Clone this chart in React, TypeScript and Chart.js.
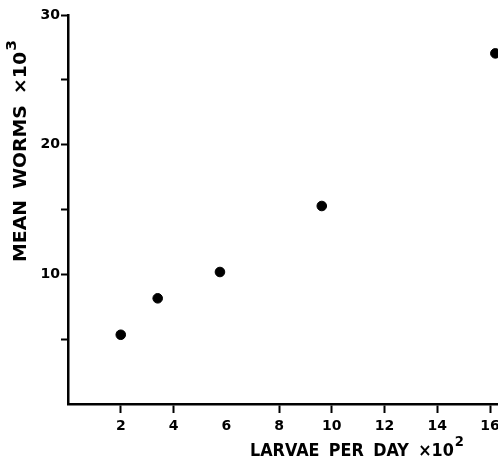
import React, { useEffect, useRef } from "react";
import { Chart, registerables } from "chart.js";

Chart.register(...registerables);

const larvaePerDay = [2.0, 3.4, 5.76, 9.62, 16.2];
const meanWorms = [5.34, 8.15, 10.18, 15.27, 27.04];
const xTicks = [2, 4, 6, 8, 10, 12, 14, 16];
const yLabelTicks = [10, 20, 30];
const xTitle = "LARVAE PER DAY ×10";
const xTitleExp = "2";
const yTitle = "MEAN WORMS ×10";
const yTitleExp = "3";

const FONT = "'DejaVu Sans', sans-serif";

function drawTitle(ctx: any, main: string, exp: string, cx: number, by: number, size: number, targetWidth: number) {
  ctx.font = `bold ${size}px ${FONT}`;
  ctx.wordSpacing = "4px";
  const wMain = ctx.measureText(main).width;
  ctx.font = `bold ${Math.round(size * 0.85)}px ${FONT}`;
  const wExp = ctx.measureText(exp).width;
  const total = wMain + wExp + 1;
  const scale = targetWidth / total;
  ctx.save();
  ctx.translate(cx, by);
  ctx.scale(scale, 1);
  ctx.textAlign = "left";
  ctx.font = `bold ${size}px ${FONT}`;
  ctx.fillText(main, -total / 2, 0);
  ctx.font = `bold ${Math.round(size * 0.85)}px ${FONT}`;
  ctx.fillText(exp, -total / 2 + wMain + 1, -size * 0.6);
  ctx.restore();
}

const titlePlugin = {
  id: "axisTitles",
  afterDraw(chart: any) {
    const ctx = chart.ctx as any;
    ctx.save();
    ctx.fillStyle = "#000";
    ctx.textBaseline = "alphabetic";
    drawTitle(ctx, xTitle, xTitleExp, 357, 456, 17, 214);
    ctx.translate(26, 151);
    ctx.rotate(-Math.PI / 2);
    drawTitle(ctx, yTitle, yTitleExp, 0, 0, 17, 222);
    ctx.restore();
  },
};

export default function App() {
  const ref = useRef<HTMLCanvasElement | null>(null);
  useEffect(() => {
    document.body.style.margin = "0";
    document.body.style.overflow = "hidden";
    if (!ref.current) return;
    const chart = new Chart(ref.current, {
      type: "scatter",
      data: {
        datasets: [
          {
            data: larvaePerDay.map((x, i) => ({ x, y: meanWorms[i] })),
            backgroundColor: "#000",
            borderColor: "#000",
            pointRadius: 4.8,
            pointHoverRadius: 4.8,
          },
        ],
      },
      options: {
        animation: false,
        responsive: false,
        events: [],
        layout: { padding: { top: 15, left: 0, right: 32, bottom: 0 } },
        plugins: { legend: { display: false }, tooltip: { enabled: false } },
        scales: {
          x: {
            type: "linear",
            min: 0,
            max: 16.3,
            afterBuildTicks: (scale: any) => {
              scale.ticks = xTicks.map((v) => ({ value: v }));
            },
            afterFit: (scale: any) => {
              scale.height = 57;
            },
            ticks: {
              includeBounds: false,
              color: "#000",
              padding: 5,
              font: { family: FONT, size: 14, weight: "bold" },
              maxRotation: 0,
              autoSkip: false,
            },
            grid: {
              drawOnChartArea: false,
              drawTicks: true,
              tickLength: 9,
              tickWidth: 2,
              tickColor: (c: any) => (c.tick && c.tick.value === 6 ? "rgba(0,0,0,0)" : "#000"),
            },
            border: { display: true, color: "#000", width: 2.5 },
          },
          y: {
            type: "linear",
            min: 0,
            max: 30,
            ticks: {
              stepSize: 5,
              includeBounds: false,
              color: "#000",
              padding: 1,
              font: { family: FONT, size: 14, weight: "bold" },
              callback: (v: any) => (yLabelTicks.includes(Number(v)) ? String(v) : ""),
            },
            afterFit: (scale: any) => {
              scale.width = 68;
            },
            grid: {
              drawOnChartArea: false,
              drawTicks: true,
              tickLength: 7,
              tickWidth: 2,
              tickColor: (c: any) => (c.tick && c.tick.value === 0 ? "rgba(0,0,0,0)" : "#000"),
            },
            border: { display: true, color: "#000", width: 2.5 },
          },
        },
      },
      plugins: [titlePlugin],
    } as any);
    return () => chart.destroy();
  }, []);
  return (
    <div style={{ position: "fixed", left: 0, top: 0, width: 498, height: 461, overflow: "hidden", background: "#fff" }}>
      <canvas ref={ref} width={530} height={461} style={{ display: "block" }} />
    </div>
  );
}
